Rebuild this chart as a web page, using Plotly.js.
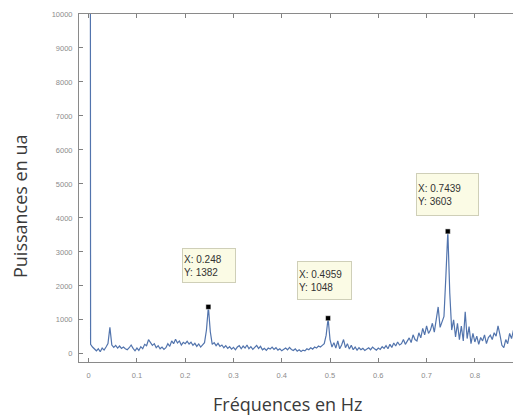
<!DOCTYPE html>
<html>
<head>
<meta charset="utf-8">
<script src="https://cdn.plot.ly/plotly-3.0.1.min.js"></script>
<style>
  html, body { margin: 0; padding: 0; background: #ffffff; }
  #chart { width: 513px; height: 416px; }
</style>
</head>
<body>
<div id="chart"></div>
<script>
// Frequencies (Hz)
var freqs = [
  0.000, 0.004, 0.008, 0.012, 0.016, 0.020, 0.024, 0.028, 0.032, 0.036,
  0.040, 0.044, 0.048, 0.052, 0.056, 0.060, 0.064, 0.068, 0.072, 0.076,
  0.080, 0.084, 0.088, 0.092, 0.096, 0.100, 0.104, 0.108, 0.112, 0.116,
  0.120, 0.124, 0.128, 0.132, 0.136, 0.140, 0.144, 0.148, 0.152, 0.156,
  0.160, 0.164, 0.168, 0.172, 0.176, 0.180, 0.184, 0.188, 0.192, 0.196,
  0.200, 0.204, 0.208, 0.212, 0.216, 0.220, 0.224, 0.228, 0.232, 0.236,
  0.240, 0.244, 0.248, 0.252, 0.256, 0.260, 0.264, 0.268, 0.272, 0.276,
  0.280, 0.284, 0.288, 0.292, 0.296, 0.300, 0.304, 0.308, 0.312, 0.316,
  0.320, 0.324, 0.328, 0.332, 0.336, 0.340, 0.344, 0.348, 0.352, 0.356,
  0.360, 0.364, 0.368, 0.372, 0.376, 0.380, 0.384, 0.388, 0.392, 0.396,
  0.400, 0.404, 0.408, 0.412, 0.416, 0.420, 0.424, 0.428, 0.432, 0.436,
  0.440, 0.444, 0.448, 0.452, 0.456, 0.460, 0.464, 0.468, 0.472, 0.476,
  0.480, 0.484, 0.488, 0.492, 0.496, 0.500, 0.504, 0.508, 0.512, 0.516,
  0.520, 0.524, 0.528, 0.532, 0.536, 0.540, 0.544, 0.548, 0.552, 0.556,
  0.560, 0.564, 0.568, 0.572, 0.576, 0.580, 0.584, 0.588, 0.592, 0.596,
  0.600, 0.604, 0.608, 0.612, 0.616, 0.620, 0.624, 0.628, 0.632, 0.636,
  0.640, 0.644, 0.648, 0.652, 0.656, 0.660, 0.664, 0.668, 0.672, 0.676,
  0.680, 0.684, 0.688, 0.692, 0.696, 0.700, 0.704, 0.708, 0.712, 0.716,
  0.720, 0.724, 0.728, 0.732, 0.736, 0.740, 0.744, 0.748, 0.752, 0.756,
  0.760, 0.764, 0.768, 0.772, 0.776, 0.780, 0.784, 0.788, 0.792, 0.796,
  0.800, 0.804, 0.808, 0.812, 0.816, 0.820, 0.824, 0.828, 0.832, 0.836,
  0.840, 0.844, 0.848, 0.852, 0.856, 0.860, 0.864, 0.868, 0.872, 0.876,
  0.880
];

// Power (a.u.)
var power = [
  100000, 280, 200, 130, 90, 150, 60, 170, 110, 200,
  300, 780, 260, 190, 250, 170, 230, 160, 200, 150,
  120, 180, 260, 160, 90, 170, 100, 210, 150, 280,
  240, 420, 330, 250, 300, 180, 240, 150, 200, 130,
  180, 300, 220, 380, 300, 430, 320, 380, 260, 340,
  300, 370, 290, 340, 250, 310, 220, 290, 200, 260,
  330, 700, 1382, 650, 280, 330, 240, 310, 220, 260,
  180, 240, 160, 210, 140, 190, 120, 200, 240, 150,
  230, 170, 260, 150, 210, 130, 180, 250, 160, 220,
  120, 160, 100, 170, 140, 200, 130, 180, 110, 150,
  90, 140, 170, 120, 190, 130, 100, 150, 80, 120,
  70, 110, 90, 150, 120, 180, 140, 200, 170, 230,
  200, 250, 300, 550, 1048, 420, 200, 330, 170, 380,
  150, 260, 420, 180, 300, 140, 250, 120, 200, 110,
  180, 120, 160, 100, 140, 180, 120, 200, 150, 110,
  170, 130, 210, 160, 240, 150, 280, 190, 320, 230,
  350, 260, 300, 420, 280, 380, 470, 330, 560, 420,
  380, 620, 470, 750, 560, 820, 600, 700, 900, 640,
  1000, 1380, 780, 950, 1100, 2300, 3603, 1800, 700, 1000,
  500, 900, 420, 820, 380, 1240, 450, 800, 300, 600,
  350, 520, 280, 480, 380, 560, 300, 480, 550, 420,
  620, 520, 820, 560, 250, 180, 420, 300, 600, 450,
  700
];

// Data tips
var tipX = [0.248, 0.4959, 0.7439];
var tipY = [1382, 1048, 3603];
var tipLabels = ["X: 0.248<br>Y: 1382", "X: 0.4959<br>Y: 1048", "X: 0.7439<br>Y: 3603"];

// Axis ticks
var xTickVals = [0, 0.1, 0.2, 0.3, 0.4, 0.5, 0.6, 0.7, 0.8];
var xTickText = ["0", "0.1", "0.2", "0.3", "0.4", "0.5", "0.6", "0.7", "0.8"];
var yTickVals = [0, 1000, 2000, 3000, 4000, 5000, 6000, 7000, 8000, 9000, 10000];
var yTickText = ["0", "1000", "2000", "3000", "4000", "5000", "6000", "7000", "8000", "9000", "10000"];

var xTitle = "Fréquences en Hz";
var yTitle = "Puissances en ua";

var traces = [
  {
    x: freqs, y: power, type: "scatter", mode: "lines",
    line: { color: "#5274ad", width: 1.2 },
    hoverinfo: "x+y", showlegend: false
  },
  {
    x: tipX, y: tipY, type: "scatter", mode: "markers",
    marker: { symbol: "square", size: 5, color: "#000000", line: { color: "#ffffff", width: 0.5 } },
    hoverinfo: "x+y", showlegend: false
  }
];

var tipBoxes = [
  { w: 50, h: 31, dx: -26, dy: 24 },
  { w: 51, h: 35, dx: -31, dy: 18 },
  { w: 59, h: 39, dx: -32, dy: 15 }
];

var annotations = tipX.map(function (xv, i) {
  var b = tipBoxes[i];
  return {
    x: xv, y: tipY[i], xref: "x", yref: "y",
    text: tipLabels[i], showarrow: false,
    xanchor: "left", yanchor: "bottom",
    xshift: b.dx, yshift: b.dy,
    width: b.w, height: b.h, align: "left", valign: "middle",
    bgcolor: "#fbfbe5", bordercolor: "#cfcfb8", borderwidth: 1, borderpad: 1,
    font: { family: "Liberation Sans, Arial, sans-serif", size: 10, color: "#333333" }
  };
});

annotations.push({
  text: xTitle, xref: "paper", yref: "paper",
  x: (287 - 79) / 434, y: -(404 - 362) / 348,
  xanchor: "center", yanchor: "middle", showarrow: false,
  font: { family: "Open Sans, sans-serif", size: 18, color: "#3a3a3a" }
});
annotations.push({
  text: yTitle, xref: "paper", yref: "paper",
  x: -(79 - 20) / 434, y: (362 - 207) / 348,
  xanchor: "center", yanchor: "middle", textangle: -90, showarrow: false,
  font: { family: "Open Sans, sans-serif", size: 18, color: "#3a3a3a" }
});

var layout = {
  width: 513, height: 416,
  margin: { l: 79, r: 0, t: 14, b: 54, pad: 0 },
  paper_bgcolor: "#ffffff", plot_bgcolor: "#ffffff",
  showlegend: false,
  xaxis: {
    range: [-0.02, 0.879],
    tickvals: xTickVals, ticktext: xTickText,
    ticks: "inside", ticklen: 4, tickcolor: "#808080", tickwidth: 1,
    ticklabelstandoff: 6,
    showline: true, linecolor: "#8a8a8a", linewidth: 1, mirror: "ticks",
    showgrid: false, zeroline: false,
    tickfont: { family: "Liberation Sans, Arial, sans-serif", size: 7.5, color: "#8c8c8c" }
  },
  yaxis: {
    range: [-240, 10000],
    tickvals: yTickVals, ticktext: yTickText,
    ticks: "inside", ticklen: 4, tickcolor: "#808080", tickwidth: 1,
    ticklabelstandoff: 4,
    showline: true, linecolor: "#8a8a8a", linewidth: 1, mirror: false,
    showgrid: false, zeroline: false,
    tickfont: { family: "Liberation Sans, Arial, sans-serif", size: 7.5, color: "#8c8c8c" }
  },
  annotations: annotations
};

Plotly.newPlot("chart", traces, layout, { displayModeBar: false, staticPlot: true });
</script>
</body>
</html>
